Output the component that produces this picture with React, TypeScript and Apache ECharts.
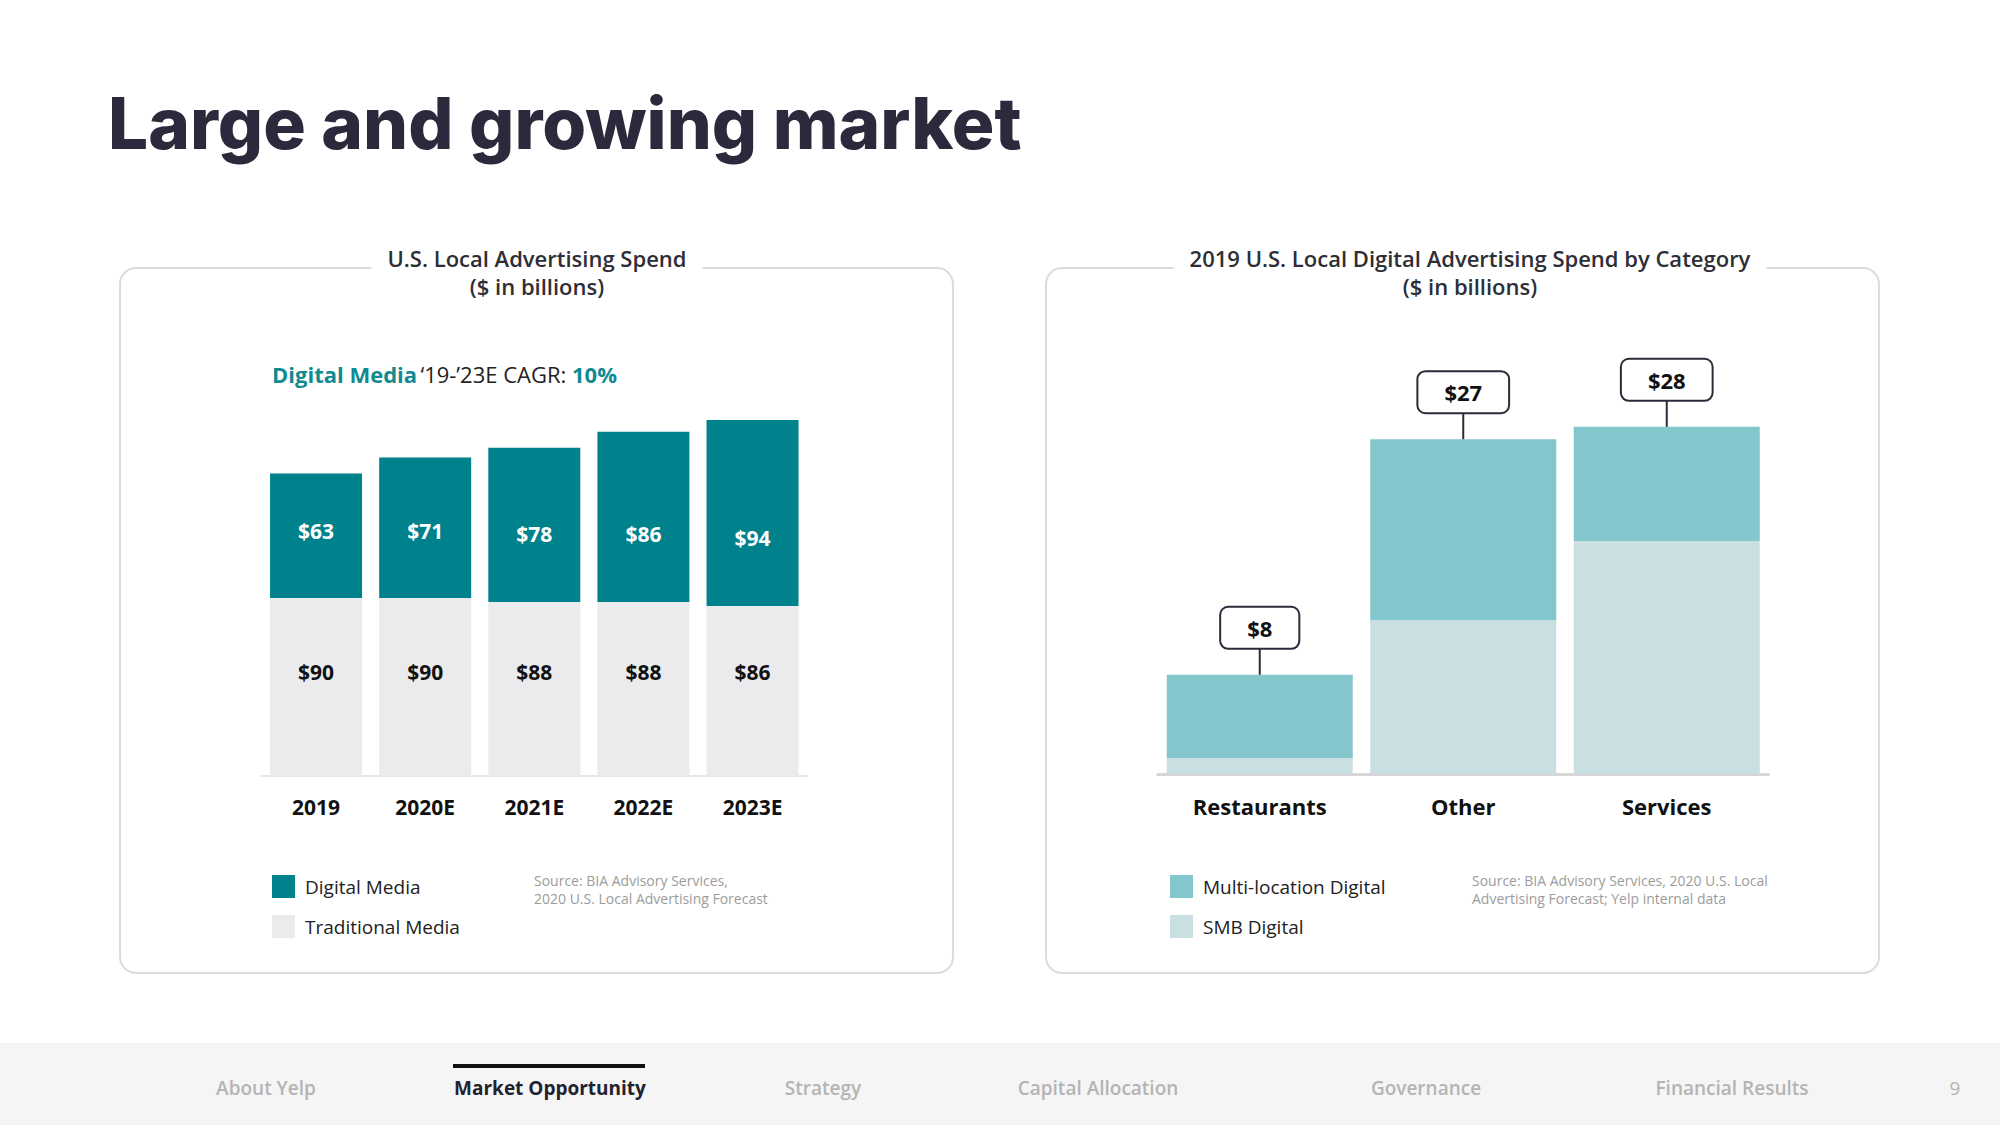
import React, { useEffect, useRef } from "react";
import * as echarts from "echarts";

const years = ["2019", "2020E", "2021E", "2022E", "2023E"];
const digitalMedia = [63, 71, 78, 86, 94];
const traditionalMedia = [90, 90, 88, 88, 86];

const categories = ["Restaurants", "Other", "Services"];
const smbDigital = [1.3, 12.4, 18.8];
const multiLocationDigital = [6.7, 14.6, 9.2];
const categoryTotals = [8, 27, 28];

const navItems = ["About Yelp", "Market Opportunity", "Strategy", "Capital Allocation", "Governance", "Financial Results"];
const navCenters = [266, 550, 823, 1098, 1426, 1732];
const activeNav = 1;

const FONT = "'Open Sans', 'Noto Sans', sans-serif";
const TEAL = "#00828c";
const GREY_BAR = "#ebebed";
const MULTI = "#83c6cc";
const SMB = "#c9dfe2";
const DARK = "#2b2b3b";

export default function App() {
  const ref = useRef<HTMLDivElement>(null);
  useEffect(() => {
    if (!ref.current) return;
    const chart = echarts.init(ref.current, null, { renderer: "svg" });
    const totals = categories.map((_, i) => [i, smbDigital[i] + multiLocationDigital[i]]);

    const option: any = {
      animation: false,
      backgroundColor: "#ffffff",
      textStyle: { fontFamily: FONT },
      graphic: [
        // cards
        { type: "rect", z: -10, shape: { x: 120, y: 268, width: 833, height: 705, r: 16 }, style: { fill: "#fff", stroke: "#dcdcdc", lineWidth: 2 } },
        { type: "rect", z: -10, shape: { x: 1046, y: 268, width: 833, height: 705, r: 16 }, style: { fill: "#fff", stroke: "#dcdcdc", lineWidth: 2 } },
        // page title
        { type: "text", x: 108, y: 123, style: { text: "Large and growing market", fontFamily: "Inter, 'Noto Sans', sans-serif", fontWeight: 800, fontSize: 71, fill: "#2a2a3c", verticalAlign: "middle" } },
        // card titles
        { type: "text", x: 537, y: 244, z: 5, style: { text: "U.S. Local Advertising Spend\n($ in billions)", align: "center", verticalAlign: "top", fontFamily: FONT, fontSize: 22, fontWeight: 600, lineHeight: 28, fill: "#2e2e36", backgroundColor: "#fff", padding: [0, 16] } },
        { type: "text", x: 1470, y: 244, z: 5, style: { text: "2019 U.S. Local Digital Advertising Spend by Category\n($ in billions)", align: "center", verticalAlign: "top", fontFamily: FONT, fontSize: 22, fontWeight: 600, lineHeight: 28, fill: "#2e2e36", backgroundColor: "#fff", padding: [0, 16] } },
        // CAGR
        { type: "text", x: 272, y: 374, style: { text: "{a|Digital Media} {b|‘19-’23E CAGR: }{a|10%}", verticalAlign: "middle", rich: { a: { fontFamily: FONT, fontSize: 22, fontWeight: 700, fill: "#118a92" }, b: { fontFamily: FONT, fontSize: 22, fontWeight: 400, fill: "#222" } } } },
        // sources
        { type: "text", x: 534, y: 871, style: { text: "Source: BIA Advisory Services,\n2020 U.S. Local Advertising Forecast", fontFamily: FONT, fontSize: 14, lineHeight: 18, fill: "#9c9c9c", verticalAlign: "top" } },
        { type: "text", x: 1472, y: 871, style: { text: "Source: BIA Advisory Services, 2020 U.S. Local\nAdvertising Forecast; Yelp internal data", fontFamily: FONT, fontSize: 14, lineHeight: 18, fill: "#9c9c9c", verticalAlign: "top" } },
        // footer
        { type: "rect", z: -10, shape: { x: 0, y: 1043, width: 2000, height: 82 }, style: { fill: "#f5f5f5" } },
        { type: "rect", shape: { x: 453, y: 1064, width: 192, height: 4 }, style: { fill: "#111" } },
        ...navItems.map((t, i) => ({
          type: "text", x: navCenters[i], y: 1088,
          style: { text: t, align: "center", verticalAlign: "middle", fontFamily: FONT, fontSize: 19, fontWeight: i === activeNav ? 700 : 600, fill: i === activeNav ? "#22222e" : "#b4b4b4" },
        })),
        { type: "text", x: 1955, y: 1088, style: { text: "9", align: "center", verticalAlign: "middle", fontFamily: FONT, fontSize: 19, fill: "#b4b4b4" } },
      ],
      legend: [
        {
          data: ["Digital Media", "Traditional Media"], orient: "vertical", left: 272, top: 875, padding: 0,
          itemWidth: 23, itemHeight: 23, itemGap: 17, icon: "rect", selectedMode: false,
          textStyle: { fontFamily: FONT, fontSize: 19, color: "#222", padding: [0, 0, 0, 5] },
        },
        {
          data: ["Multi-location Digital", "SMB Digital"], orient: "vertical", left: 1170, top: 875, padding: 0,
          itemWidth: 23, itemHeight: 23, itemGap: 17, icon: "rect", selectedMode: false,
          textStyle: { fontFamily: FONT, fontSize: 19, color: "#222", padding: [0, 0, 0, 5] },
        },
      ],
      grid: [
        { left: 261.5, width: 545.6, top: 420, height: 356 },
        { left: 1158, width: 610.5, top: 402, height: 372 },
      ],
      xAxis: [
        {
          type: "category", gridIndex: 0, data: years,
          axisLine: { lineStyle: { color: "#e6e6e6", width: 2 } }, axisTick: { show: false },
          axisLabel: { margin: 20, fontFamily: FONT, fontSize: 21, fontWeight: 700, color: "#111" },
        },
        {
          type: "category", gridIndex: 1, data: categories,
          axisLine: { lineStyle: { color: "#d6d6d6", width: 3 } }, axisTick: { show: false },
          axisLabel: { margin: 21, fontFamily: FONT, fontSize: 22, fontWeight: 700, color: "#111" },
        },
      ],
      yAxis: [
        { type: "value", gridIndex: 0, min: 0, max: 180, show: false, splitLine: { show: false } },
        { type: "value", gridIndex: 1, min: 0, max: 30, show: false, splitLine: { show: false } },
      ],
      series: [
        {
          name: "Traditional Media", type: "bar", stack: "left", xAxisIndex: 0, yAxisIndex: 0,
          data: traditionalMedia, barWidth: 92, itemStyle: { color: GREY_BAR },
          label: { show: true, position: "insideBottom", distance: 94, formatter: (p: any) => "$" + p.value, fontFamily: FONT, fontSize: 21, fontWeight: 700, color: "#111" },
        },
        {
          name: "Digital Media", type: "bar", stack: "left", xAxisIndex: 0, yAxisIndex: 0,
          data: digitalMedia, barWidth: 92, itemStyle: { color: TEAL },
          label: { show: true, position: "insideBottom", distance: 57, formatter: (p: any) => "$" + p.value, fontFamily: FONT, fontSize: 21, fontWeight: 700, color: "#fff" },
        },
        {
          name: "SMB Digital", type: "bar", stack: "right", xAxisIndex: 1, yAxisIndex: 1,
          data: smbDigital, barWidth: 186, itemStyle: { color: SMB },
        },
        {
          name: "Multi-location Digital", type: "bar", stack: "right", xAxisIndex: 1, yAxisIndex: 1,
          data: multiLocationDigital, barWidth: 186, itemStyle: { color: MULTI },
        },
        {
          name: "Totals", type: "custom", xAxisIndex: 1, yAxisIndex: 1, clip: false, z: 5,
          data: totals,
          renderItem: (params: any, api: any) => {
            const idx = api.value(0);
            const pt = api.coord([idx, api.value(1)]);
            const stem = 27;
            return {
              type: "group",
              children: [
                { type: "line", shape: { x1: pt[0], y1: pt[1], x2: pt[0], y2: pt[1] - stem }, style: { stroke: DARK, lineWidth: 2 } },
                {
                  type: "text", x: pt[0], y: pt[1] - stem,
                  style: {
                    text: "$" + categoryTotals[idx], align: "center", verticalAlign: "bottom",
                    fontFamily: FONT, fontSize: 22, fontWeight: 700, fill: "#111",
                    backgroundColor: "#fff", borderColor: DARK, borderWidth: 2, borderRadius: 7, padding: [9, 26],
                  },
                },
              ],
            };
          },
        },
      ],
    };
    chart.setOption(option);
    return () => chart.dispose();
  }, []);
  return <div ref={ref} style={{ position: "absolute", left: 0, top: 0, width: 2000, height: 1125 }} />;
}
